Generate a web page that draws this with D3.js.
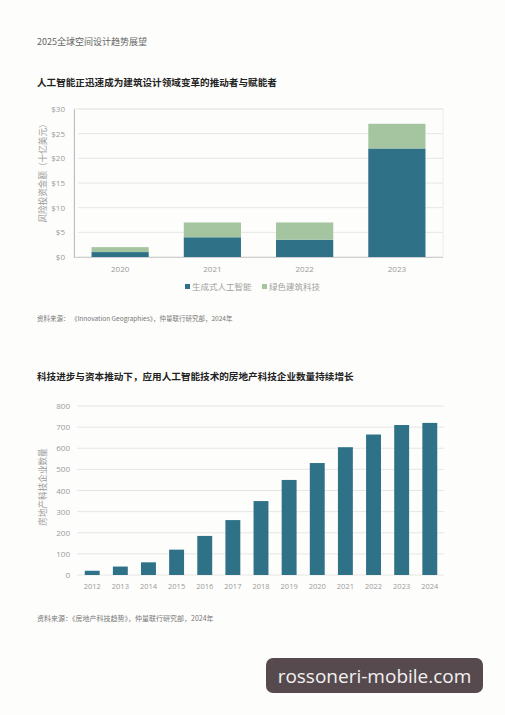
<!DOCTYPE html>
<html><head><meta charset="utf-8">
<script src="https://cdn.jsdelivr.net/npm/d3@7"></script>
<style>
html,body{margin:0;padding:0;background:#fdfdfb;}
svg{display:block;font-family:"Noto Sans CJK SC","Noto Sans",sans-serif;}
</style></head>
<body>
<svg id="c" width="505" height="715"></svg>
<script>
// Chart 1 data
const years1 = ["2020","2021","2022","2023"];
const genAI = [1, 4, 3.5, 22];
const greenTech = [1, 3, 3.5, 5];
const ticks1 = [0,5,10,15,20,25,30];
const seriesNames = ["生成式人工智能","绿色建筑科技"];
// Chart 2 data
const years2 = ["2012","2013","2014","2015","2016","2017","2018","2019","2020","2021","2022","2023","2024"];
const companies = [20, 40, 60, 120, 185, 260, 350, 450, 530, 605, 665, 710, 720];
const ticks2 = [0,100,200,300,400,500,600,700,800];

const teal = "#2f7288", green = "#a5c5a1", grid = "#e6e6e6", tickCol = "#9a9a9a";
const svg = d3.select("#c");
svg.append("rect").attr("width",505).attr("height",715).attr("fill","#fdfdfb");

svg.append("text").attr("x",37).attr("y",45).attr("font-size",9).attr("fill","#666").text("2025全球空间设计趋势展望");
svg.append("text").attr("x",37).attr("y",86).attr("font-size",9.6).attr("font-weight","bold").attr("fill","#222").text("人工智能正迅速成为建筑设计领域变革的推动者与赋能者");

// Chart 1
{
  const x = d3.scaleBand().domain(years1).range([74,443]).paddingInner(0.38).paddingOuter(0.19);
  const y = d3.scaleLinear().domain([0,30]).range([257,109]);
  const g = svg.append("g");
  g.append("rect").attr("x",74).attr("y",109).attr("width",369).attr("height",148).attr("fill","none").attr("stroke","#ececec");
  ticks1.forEach(t=>{
    g.append("line").attr("x1",78).attr("x2",443).attr("y1",y(t)).attr("y2",y(t)).attr("stroke",grid);
  });
  const yAxis = d3.axisLeft(y).tickValues(ticks1).tickFormat(d=>"$"+d).tickSize(0).tickPadding(9);
  const ya = g.append("g").attr("transform","translate(74,0)").call(yAxis);
  ya.select(".domain").attr("stroke","#bdbdbd");
  ya.selectAll("text").attr("fill",tickCol).attr("font-size",8).attr("font-family","Open Sans, sans-serif");
  const stack = years1.map((d,i)=>({year:d, a:genAI[i], b:greenTech[i]}));
  g.selectAll(".ba").data(stack).join("rect").attr("x",d=>x(d.year)).attr("width",x.bandwidth())
    .attr("y",d=>y(d.a)).attr("height",d=>y(0)-y(d.a)).attr("fill",teal);
  g.selectAll(".bb").data(stack).join("rect").attr("x",d=>x(d.year)).attr("width",x.bandwidth())
    .attr("y",d=>y(d.a+d.b)).attr("height",d=>y(d.a)-y(d.a+d.b)).attr("fill",green);
  g.append("line").attr("x1",74).attr("x2",443).attr("y1",257.5).attr("y2",257.5).attr("stroke","#cfcfcf");
  const xAxis = d3.axisBottom(x).tickSize(0).tickPadding(8);
  const xa = g.append("g").attr("transform","translate(0,258)").call(xAxis);
  xa.select(".domain").remove();
  xa.selectAll("text").attr("fill",tickCol).attr("font-size",8).attr("font-family","Open Sans, sans-serif");
  g.append("text").attr("transform","translate(46,171) rotate(-90)").attr("text-anchor","middle")
    .attr("font-size",8.6).attr("fill",tickCol).text("风险投资金额（十亿美元）");
  // legend
  const lg = [{n:seriesNames[0],c:teal,x:185},{n:seriesNames[1],c:green,x:262}];
  lg.forEach(l=>{
    g.append("rect").attr("x",l.x).attr("y",284).attr("width",5).attr("height",5).attr("fill",l.c);
    g.append("text").attr("x",l.x+7).attr("y",290).attr("font-size",8.5).attr("fill","#a0a0a0").text(l.n);
  });
  svg.append("text").attr("x",37).attr("y",321).attr("font-size",6.5).attr("fill","#777")
    .text("资料来源：  《Innovation Geographies》，仲量联行研究部，2024年");
}

svg.append("text").attr("x",37).attr("y",380).attr("font-size",9.6).attr("font-weight","bold").attr("fill","#222").text("科技进步与资本推动下，应用人工智能技术的房地产科技企业数量持续增长");

// Chart 2
{
  const x = d3.scaleBand().domain(years2).range([78,444]).paddingInner(0.47).paddingOuter(0.24);
  const y = d3.scaleLinear().domain([0,800]).range([575,406]);
  const g = svg.append("g");
  ticks2.forEach(t=>{
    g.append("line").attr("x1",77).attr("x2",444).attr("y1",y(t)).attr("y2",y(t)).attr("stroke",grid);
  });
  const yAxis = d3.axisLeft(y).tickValues(ticks2).tickSize(0).tickPadding(6);
  const ya = g.append("g").attr("transform","translate(76,0)").call(yAxis);
  ya.select(".domain").remove();
  ya.selectAll("text").attr("fill",tickCol).attr("font-size",8).attr("font-family","Open Sans, sans-serif");
  g.selectAll(".b2").data(years2.map((d,i)=>({year:d,v:companies[i]}))).join("rect")
    .attr("x",d=>x(d.year)).attr("width",x.bandwidth()).attr("y",d=>y(d.v)).attr("height",d=>y(0)-y(d.v)).attr("fill",teal);
  const xAxis = d3.axisBottom(x).tickSize(0).tickPadding(8);
  const xa = g.append("g").attr("transform","translate(0,576)").call(xAxis);
  xa.select(".domain").remove();
  xa.selectAll("text").attr("fill",tickCol).attr("font-size",7.5).attr("font-family","Open Sans, sans-serif");
  g.append("text").attr("transform","translate(46,487) rotate(-90)").attr("text-anchor","middle")
    .attr("font-size",8.6).attr("fill",tickCol).text("房地产科技企业数量");
  svg.append("text").attr("x",37).attr("y",621).attr("font-size",7).attr("fill","#777")
    .text("资料来源：《房地产科技趋势》，仲量联行研究部，2024年");
}

// watermark
svg.append("rect").attr("x",266).attr("y",658).attr("width",217).attr("height",35).attr("rx",7).attr("fill","#574a4e");
svg.append("text").attr("x",374.5).attr("y",682.5).attr("text-anchor","middle").attr("font-size",19)
  .attr("font-family","Open Sans, sans-serif").attr("fill","#f2f2f2").text("rossoneri-mobile.com");
</script>
</body></html>
